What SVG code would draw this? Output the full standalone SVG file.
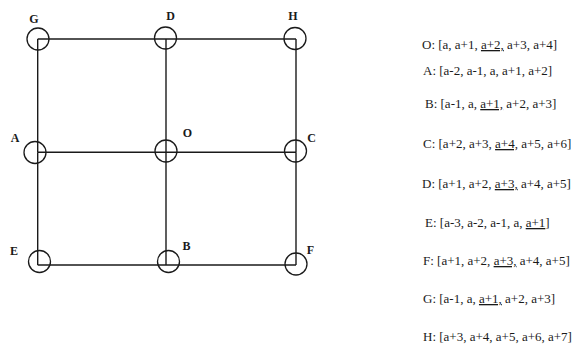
<svg xmlns="http://www.w3.org/2000/svg" width="573" height="350" viewBox="0 0 573 350">
<style>
.edge{stroke:#1a1a1a;stroke-width:1.4;fill:none}
.node circle{stroke:#1a1a1a;stroke-width:1.3;fill:none}
.lbl{font-family:"Liberation Serif","Times New Roman",serif;font-weight:bold;font-size:12px;fill:#1a1a1a}
.lst{font-family:"Liberation Serif","Times New Roman",serif;font-size:13px;fill:#1a1a1a}
.u{text-decoration:underline}
</style>
<rect width="573" height="350" fill="#ffffff"/>
<g id="connectors">
<line class="edge" x1="37.7" y1="39" x2="166" y2="39"/>
<line class="edge" x1="166" y1="39" x2="296" y2="39"/>
<line class="edge" x1="37.7" y1="152.3" x2="166" y2="152.3"/>
<line class="edge" x1="166" y1="152.3" x2="296" y2="152.3"/>
<line class="edge" x1="37.7" y1="265" x2="166" y2="265"/>
<line class="edge" x1="166" y1="265" x2="296" y2="265"/>
<line class="edge" x1="37.7" y1="39" x2="37.7" y2="152.3"/>
<line class="edge" x1="37.7" y1="152.3" x2="37.7" y2="265"/>
<line class="edge" x1="166" y1="39" x2="166" y2="152.3"/>
<line class="edge" x1="166" y1="152.3" x2="166" y2="265"/>
<line class="edge" x1="296" y1="39" x2="296" y2="152.3"/>
<line class="edge" x1="296" y1="152.3" x2="296" y2="265"/>
</g>
<g id="node-G" class="node"><circle cx="38" cy="39" r="11"/><text class="lbl" x="34" y="23" text-anchor="middle">G</text></g>
<g id="node-D" class="node"><circle cx="165.5" cy="38" r="11"/><text class="lbl" x="170.5" y="20" text-anchor="middle">D</text></g>
<g id="node-H" class="node"><circle cx="295" cy="38.5" r="11"/><text class="lbl" x="293" y="20" text-anchor="middle">H</text></g>
<g id="node-A" class="node"><circle cx="35" cy="152.5" r="11"/><text class="lbl" x="15" y="142" text-anchor="middle">A</text></g>
<g id="node-O" class="node"><circle cx="166" cy="151" r="11"/><text class="lbl" x="187.5" y="137" text-anchor="middle">O</text></g>
<g id="node-C" class="node"><circle cx="295.5" cy="151" r="11"/><text class="lbl" x="311.5" y="142" text-anchor="middle">C</text></g>
<g id="node-E" class="node"><circle cx="39.5" cy="261.5" r="11"/><text class="lbl" x="14" y="255" text-anchor="middle">E</text></g>
<g id="node-B" class="node"><circle cx="168.5" cy="261.5" r="11"/><text class="lbl" x="186.5" y="250" text-anchor="middle">B</text></g>
<g id="node-F" class="node"><circle cx="296" cy="264" r="11"/><text class="lbl" x="310.5" y="254" text-anchor="middle">F</text></g>
<g id="list">
<text class="lst" x="422" y="49">O: [a, a+1, <tspan class="u">a+2,</tspan> a+3, a+4]</text>
<text class="lst" x="423" y="75">A: [a-2, a-1,  a, <tspan class="u"> </tspan>a+1, a+2]</text>
<text class="lst" x="425" y="108">B: [a-1, a, <tspan class="u">a+1,</tspan> a+2, a+3]</text>
<text class="lst" x="423" y="148">C: [a+2, a+3, <tspan class="u">a+4,</tspan> a+5, a+6]</text>
<text class="lst" x="422" y="188">D: [a+1, a+2, <tspan class="u">a+3,</tspan> a+4, a+5]</text>
<text class="lst" x="425" y="227">E: [a-3, a-2, a-1, a, <tspan class="u">a+1</tspan>]</text>
<text class="lst" x="423" y="265">F: [a+1, a+2, <tspan class="u">a+3,</tspan> a+4, a+5]</text>
<text class="lst" x="423" y="303">G: [a-1, a,  <tspan class="u">a+1,</tspan> a+2, a+3]</text>
<text class="lst" x="423" y="341">H: [a+3, a+4, a+5, a+6, a+7]</text>
</g>
</svg>
